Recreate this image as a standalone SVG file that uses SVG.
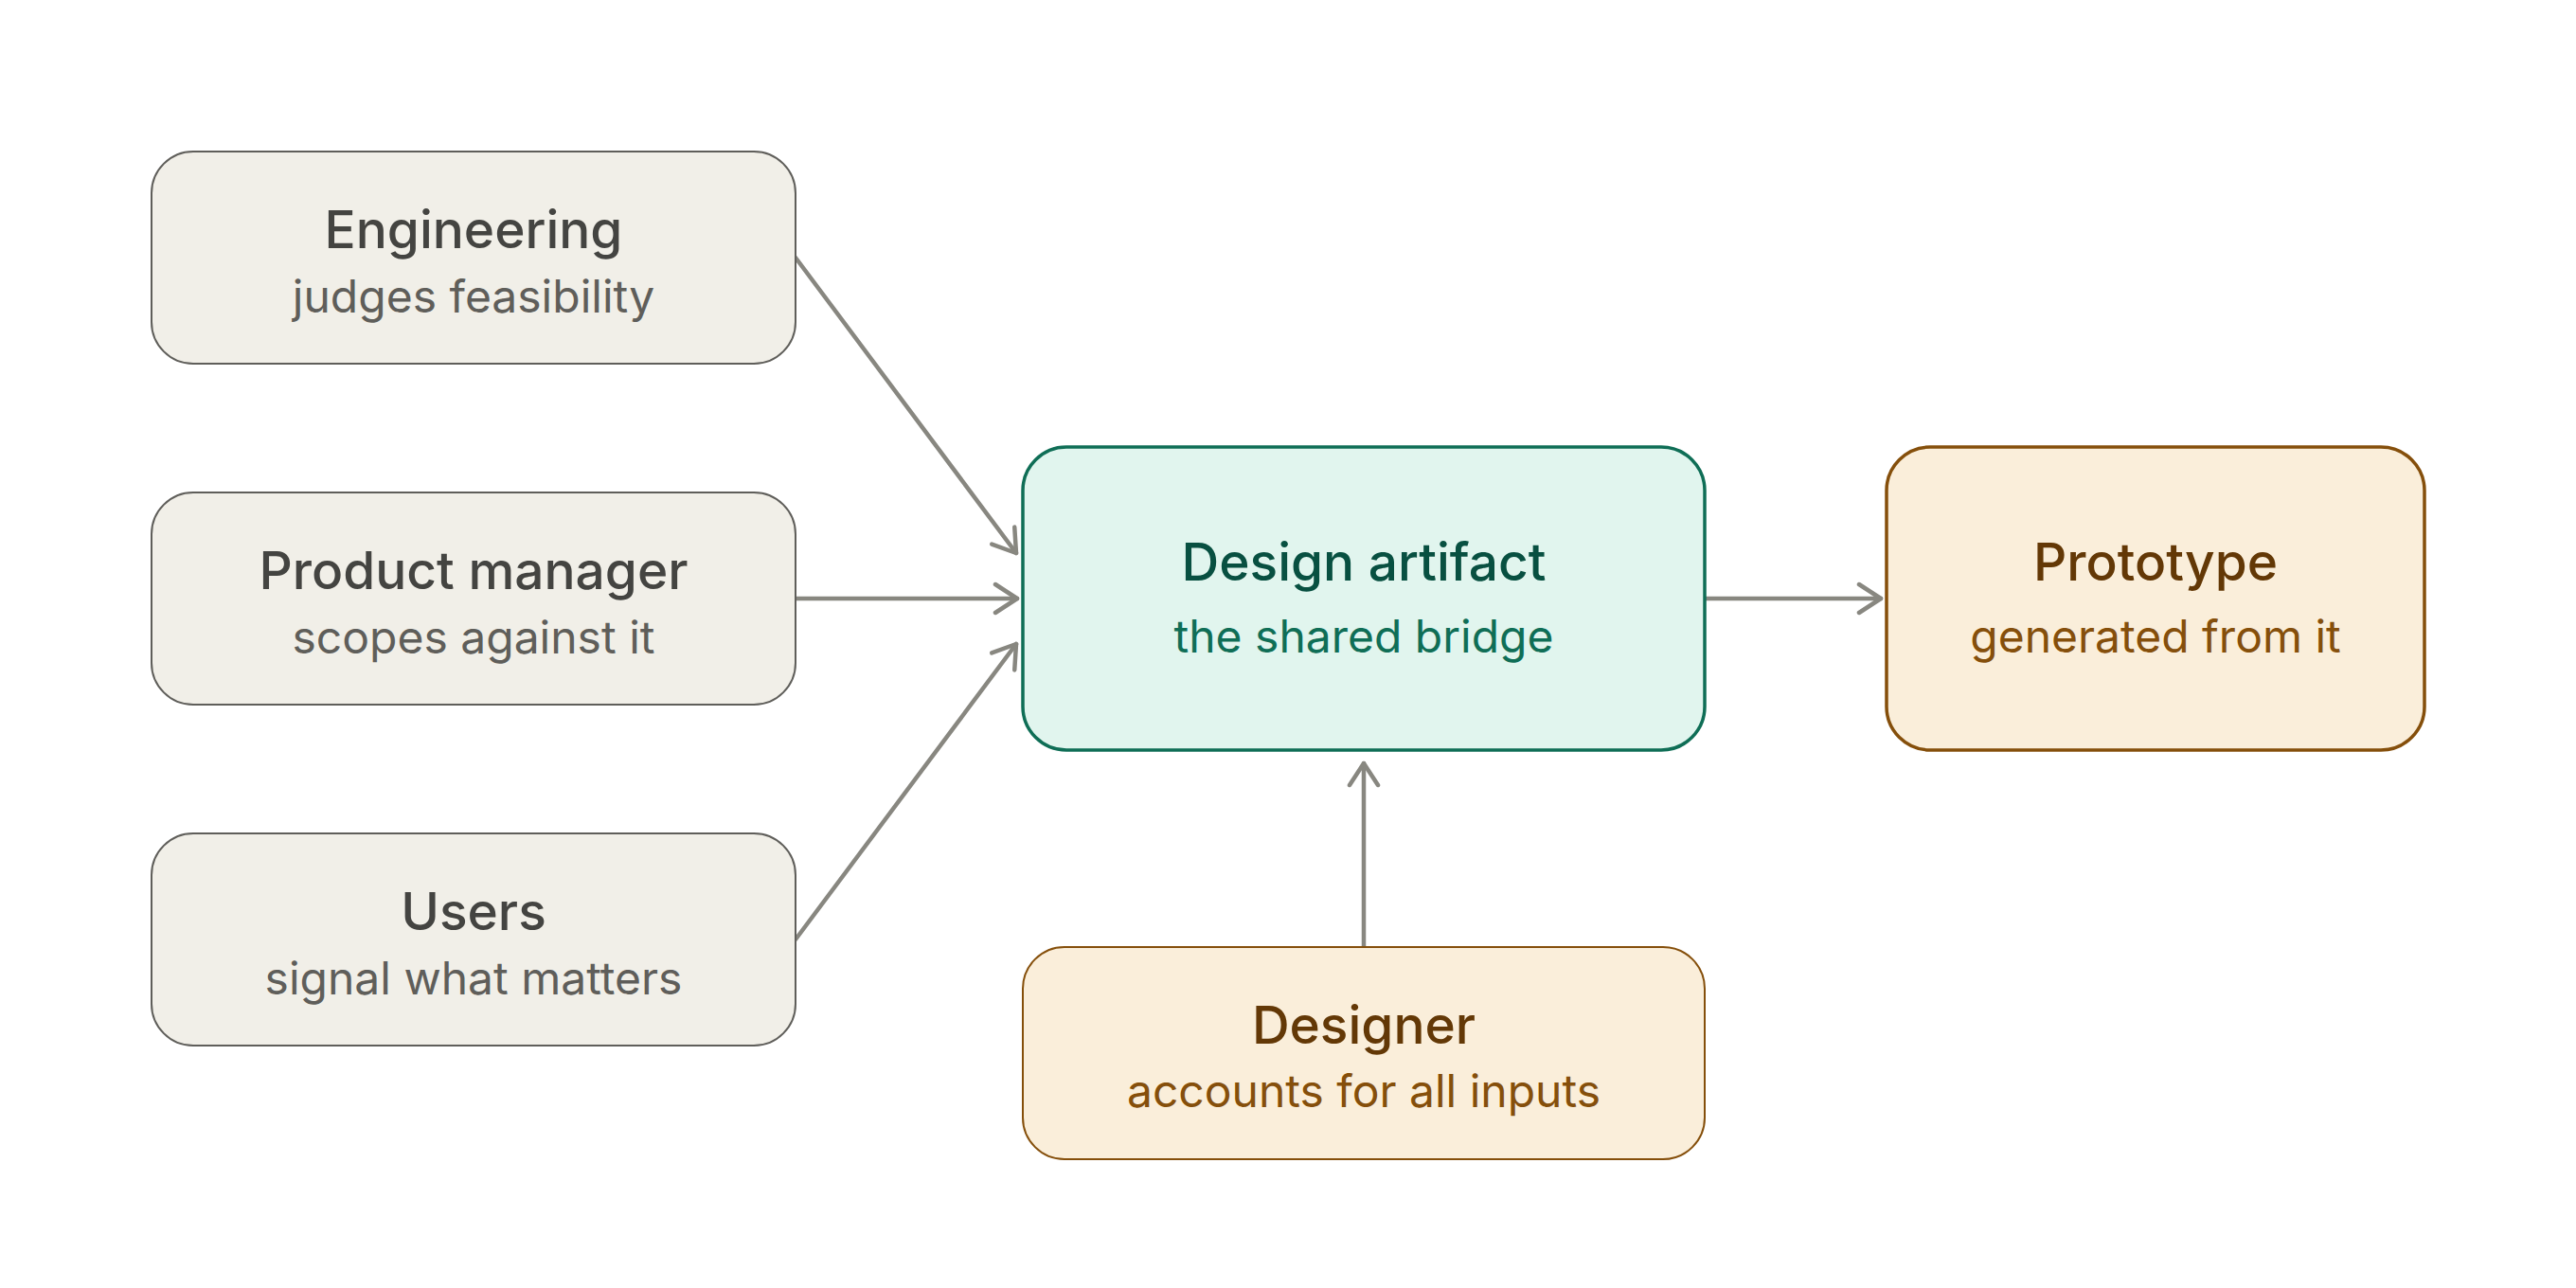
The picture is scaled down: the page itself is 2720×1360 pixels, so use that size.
<svg xmlns="http://www.w3.org/2000/svg" width="2720" height="1360" viewBox="0 0 2720 1360">
<style>
.t{font-family:Inter,"Noto Sans","Liberation Sans",sans-serif;font-size:55px;font-weight:500;text-anchor:middle}
.s{font-family:Inter,"Noto Sans","Liberation Sans",sans-serif;font-size:48px;font-weight:400;text-anchor:middle}
.gray rect{fill:#f1efe8;stroke:#5f5e5a;stroke-width:2}
.gray .t{fill:#444441}.gray .s{fill:#5f5e5a}
.green rect{fill:#e1f5ee;stroke:#0f6e56;stroke-width:3.5}
.green .t{fill:#085041}.green .s{fill:#0f6e56}
.amber rect{fill:#faeeda;stroke:#854f0b;stroke-width:2}
.amber.thick rect{stroke-width:3.5}
.amber .t{fill:#633806}.amber .s{fill:#854f0b}
.edge{stroke:#888780;stroke-width:4.5;fill:none;stroke-linecap:round;stroke-linejoin:round}
</style>
<defs>
<marker id="ah" viewBox="0 0 30 36" refX="26" refY="18" markerWidth="30" markerHeight="36" markerUnits="userSpaceOnUse" orient="auto">
<path d="M3 3 L26 18 L3 33" fill="none" stroke="#888780" stroke-width="4.5" stroke-linecap="round" stroke-linejoin="round"/>
</marker>
</defs>
<rect width="2720" height="1360" fill="#ffffff"/>
<g id="connectors">
<line class="edge" x1="840" y1="272" x2="1073" y2="584" marker-end="url(#ah)"/>
<line class="edge" x1="840" y1="632" x2="1074" y2="632" marker-end="url(#ah)"/>
<line class="edge" x1="840" y1="992" x2="1073" y2="680" marker-end="url(#ah)"/>
<line class="edge" x1="1800" y1="632" x2="1986" y2="632" marker-end="url(#ah)"/>
<line class="edge" x1="1440" y1="1000" x2="1440" y2="806" marker-end="url(#ah)"/>
</g>
<g id="engineering" class="gray">
<rect x="160" y="160" width="680" height="224" rx="44"/>
<text class="t" x="500" y="262">Engineering</text>
<text class="s" x="500" y="330">judges feasibility</text>
</g>
<g id="product-manager" class="gray">
<rect x="160" y="520" width="680" height="224" rx="44"/>
<text class="t" x="500" y="622">Product manager</text>
<text class="s" x="500" y="690">scopes against it</text>
</g>
<g id="users" class="gray">
<rect x="160" y="880" width="680" height="224" rx="44"/>
<text class="t" x="500" y="982">Users</text>
<text class="s" x="500" y="1050">signal what matters</text>
</g>
<g id="design-artifact" class="green">
<rect x="1080" y="472" width="720" height="320" rx="46"/>
<text class="t" x="1440" y="613">Design artifact</text>
<text class="s" x="1440" y="689">the shared bridge</text>
</g>
<g id="prototype" class="amber thick">
<rect x="1992" y="472" width="568" height="320" rx="46"/>
<text class="t" x="2276" y="613">Prototype</text>
<text class="s" x="2276" y="689">generated from it</text>
</g>
<g id="designer" class="amber">
<rect x="1080" y="1000" width="720" height="224" rx="44"/>
<text class="t" x="1440" y="1102">Designer</text>
<text class="s" x="1440" y="1169">accounts for all inputs</text>
</g>
</svg>
